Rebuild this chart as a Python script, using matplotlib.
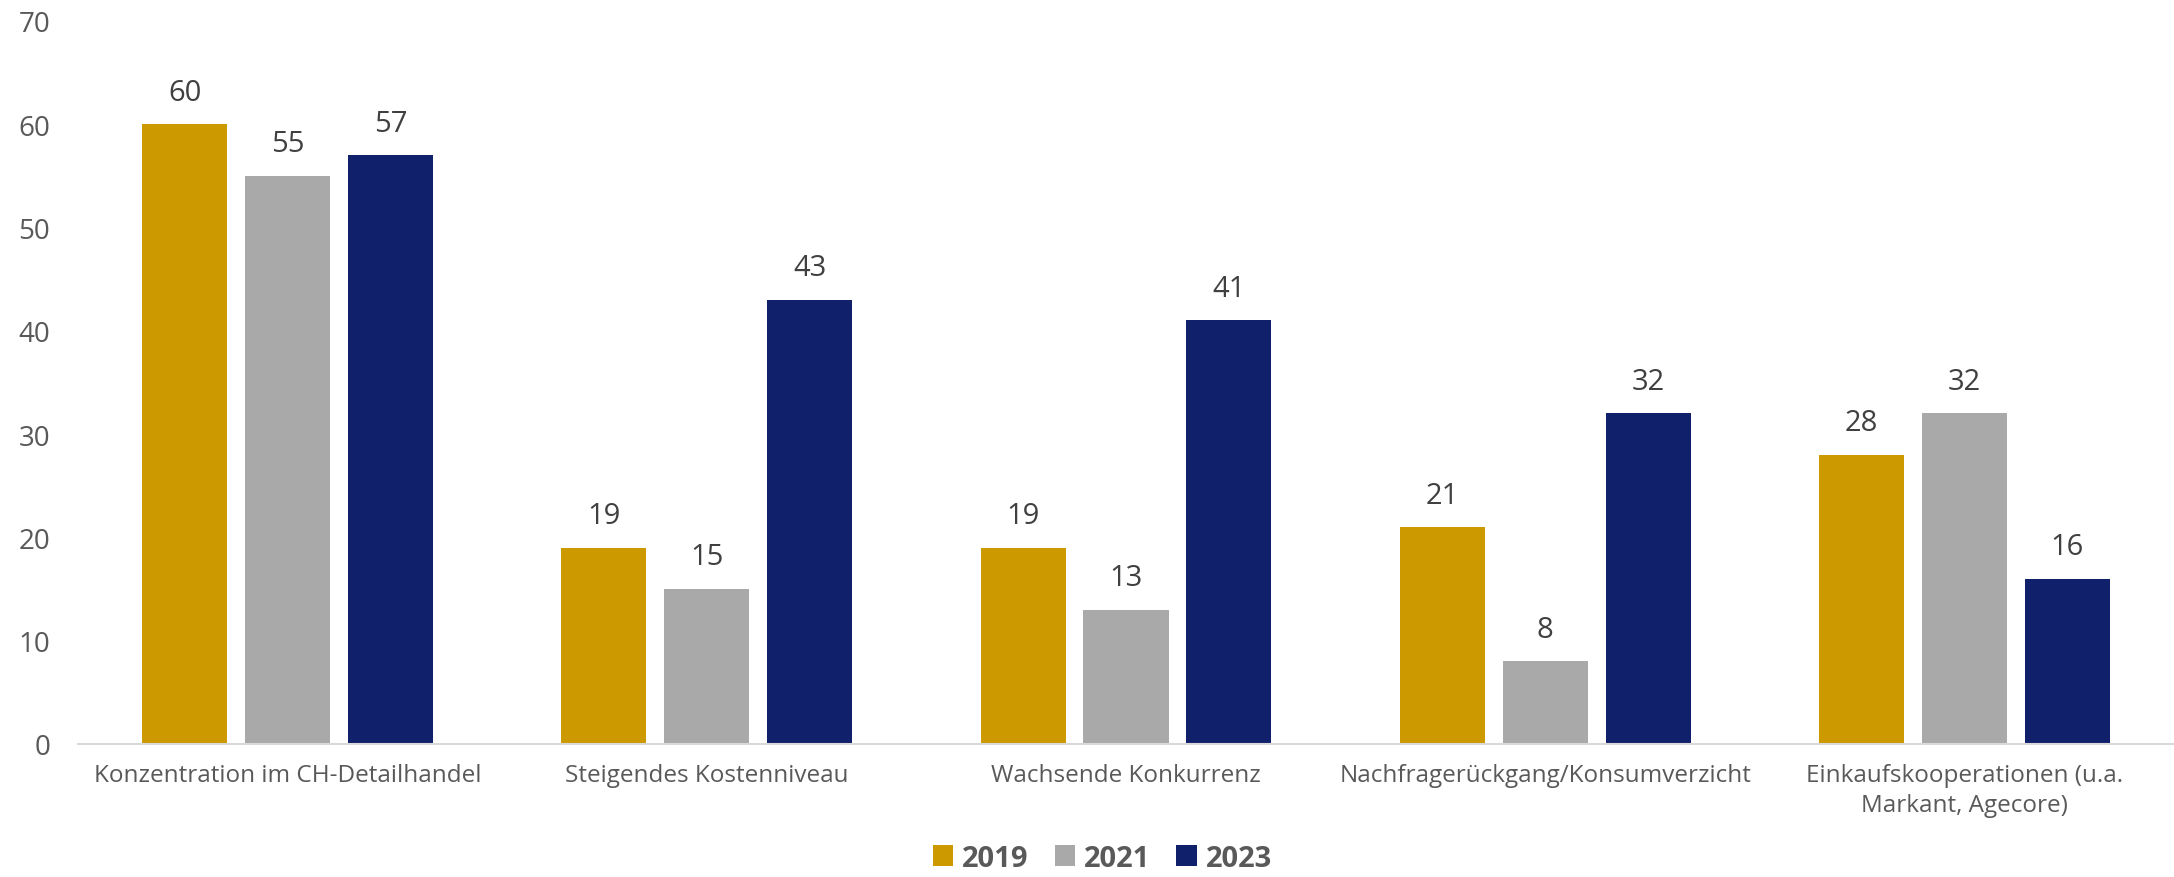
import numpy as np
import matplotlib
matplotlib.use("Agg")
import matplotlib.pyplot as plt

categories = ["Konzentration im CH-Detailhandel", "Steigendes Kostenniveau",
              "Wachsende Konkurrenz", "Nachfragerückgang/Konsumverzicht",
              "Einkaufskooperationen (u.a.\nMarkant, Agecore)"]
years = ["2019", "2021", "2023"]
v2019 = [60, 19, 19, 21, 28]
v2021 = [55, 15, 13, 8, 32]
v2023 = [57, 43, 41, 32, 16]
colors = ["#CC9900", "#A9A9A9", "#10206B"]

plt.rcParams['font.family'] = ['Open Sans', 'DejaVu Sans']

fig = plt.figure(figsize=(21.74, 8.78), dpi=100)
ax = fig.add_axes([0.0359, 0.1515, 0.9641, 0.8235])

x = np.arange(len(categories))
width = 0.203
step = 0.2455
for i, (vals, yr) in enumerate(zip([v2019, v2021, v2023], years)):
    bars = ax.bar(x + (i - 1) * step, vals, width, color=colors[i], label=yr)
    for b, v in zip(bars, vals):
        ax.text(b.get_x() + b.get_width() / 2, v + 1.7, str(v), ha='center', va='bottom',
                fontsize=21, color='#404040')

ax.set_xlim(-0.5, len(categories) - 0.5)
ax.set_ylim(0, 70)
ax.set_yticks(range(0, 71, 10))
ax.set_xticks(x)
ax.set_xticklabels(categories, fontsize=17.5, color='#595959', linespacing=1.3)
ax.tick_params(axis='y', labelsize=20, labelcolor='#595959', length=0, pad=20)
ax.tick_params(axis='x', length=0, pad=14)
for s in ['top', 'right', 'left']:
    ax.spines[s].set_visible(False)
ax.spines['bottom'].set_color('#D9D9D9')
ax.spines['bottom'].set_linewidth(1.5)

leg = fig.legend(loc='lower center', ncol=3, frameon=False, bbox_to_anchor=(0.507, -0.025),
                 prop={'size': 21, 'weight': 'bold'}, handlelength=0.7, handleheight=0.7,
                 handletextpad=0.3, columnspacing=0.9)
for t in leg.get_texts():
    t.set_color('#595959')

fig.savefig("out.png", dpi=100)
